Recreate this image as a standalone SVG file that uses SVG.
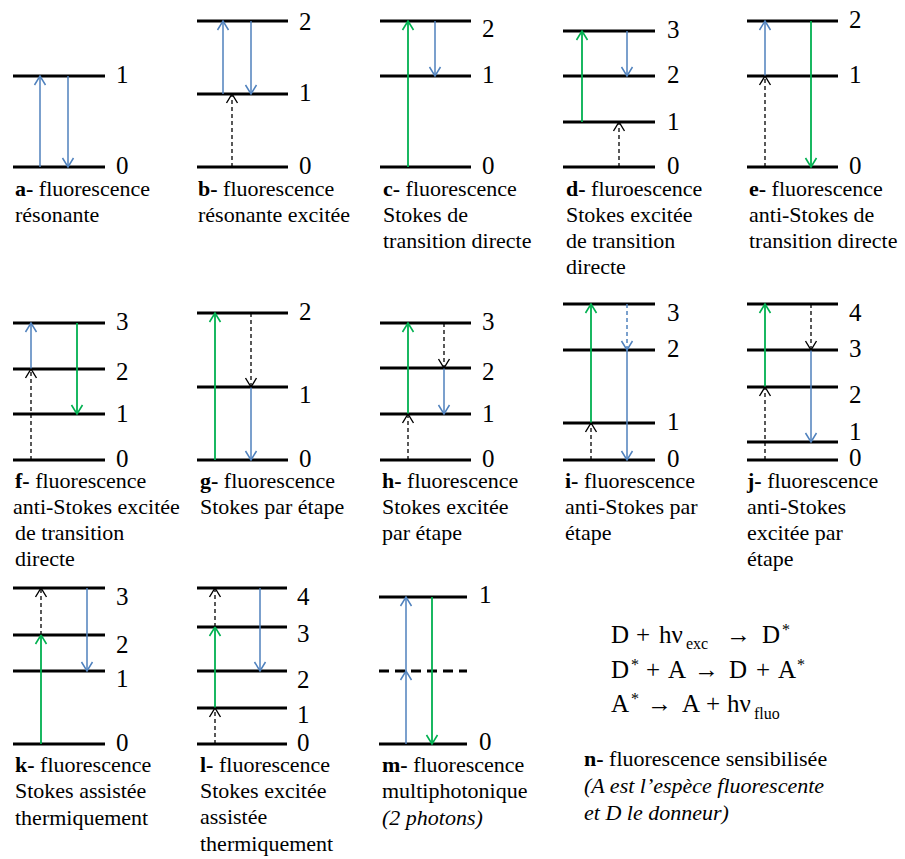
<svg xmlns="http://www.w3.org/2000/svg" width="905" height="859" viewBox="0 0 905 859">
<defs>
<marker id="mb" viewBox="-11 -7 12 14" refX="0" refY="0" markerWidth="12" markerHeight="14" markerUnits="userSpaceOnUse" orient="auto"><path d="M-9,-5.5 L0,0 L-9,5.5" fill="none" stroke="#4f81bd" stroke-width="1.5" stroke-dasharray="none"/></marker>
<marker id="mg" viewBox="-11 -7 12 14" refX="0" refY="0" markerWidth="12" markerHeight="14" markerUnits="userSpaceOnUse" orient="auto"><path d="M-9,-5.5 L0,0 L-9,5.5" fill="none" stroke="#00b050" stroke-width="1.6"/></marker>
<marker id="mk" viewBox="-11 -7 12 14" refX="0" refY="0" markerWidth="12" markerHeight="14" markerUnits="userSpaceOnUse" orient="auto"><path d="M-9,-5.5 L0,0 L-9,5.5" fill="none" stroke="#000" stroke-width="1.4" stroke-dasharray="none"/></marker>
</defs>
<rect width="905" height="859" fill="#fff"/>

<g id="panel-a">
<path stroke="#000" stroke-width="3" fill="none" d="M13,76H105M13,167H105"/>
<text style="font-family:Liberation Serif !important" font-family="Liberation Serif" font-size="25" x="116" y="83">1</text><text style="font-family:Liberation Serif !important" font-family="Liberation Serif" font-size="25" x="116" y="174">0</text>
<text style="font-family:Liberation Serif !important" font-family="Liberation Serif" font-size="22" x="15" y="196"><tspan font-weight="bold">a-</tspan> fluorescence</text>
<text style="font-family:Liberation Serif !important" font-family="Liberation Serif" font-size="22" x="15" y="222">résonante</text>
</g>
<g id="panel-b">
<path stroke="#000" stroke-width="3" fill="none" d="M197,21H288M197,94H288M197,167H288"/>
<text style="font-family:Liberation Serif !important" font-family="Liberation Serif" font-size="25" x="299" y="30">2</text><text style="font-family:Liberation Serif !important" font-family="Liberation Serif" font-size="25" x="299" y="101">1</text><text style="font-family:Liberation Serif !important" font-family="Liberation Serif" font-size="25" x="299" y="174">0</text>
<text style="font-family:Liberation Serif !important" font-family="Liberation Serif" font-size="22" x="198" y="196"><tspan font-weight="bold">b-</tspan> fluorescence</text>
<text style="font-family:Liberation Serif !important" font-family="Liberation Serif" font-size="22" x="198" y="222">résonante excitée</text>
</g>
<g id="panel-c">
<path stroke="#000" stroke-width="3" fill="none" d="M380,21H471M380,76H471M380,167H471"/>
<text style="font-family:Liberation Serif !important" font-family="Liberation Serif" font-size="25" x="482" y="37">2</text><text style="font-family:Liberation Serif !important" font-family="Liberation Serif" font-size="25" x="482" y="83">1</text><text style="font-family:Liberation Serif !important" font-family="Liberation Serif" font-size="25" x="482" y="174">0</text>
<text style="font-family:Liberation Serif !important" font-family="Liberation Serif" font-size="22" x="383" y="196"><tspan font-weight="bold">c-</tspan> fluorescence</text>
<text style="font-family:Liberation Serif !important" font-family="Liberation Serif" font-size="22" x="383" y="222">Stokes de</text>
<text style="font-family:Liberation Serif !important" font-family="Liberation Serif" font-size="22" x="383" y="248">transition directe</text>
</g>
<g id="panel-d">
<path stroke="#000" stroke-width="3" fill="none" d="M563,31H655M563,76H655M563,122H655M563,167H655"/>
<text style="font-family:Liberation Serif !important" font-family="Liberation Serif" font-size="25" x="667" y="38">3</text><text style="font-family:Liberation Serif !important" font-family="Liberation Serif" font-size="25" x="667" y="83">2</text><text style="font-family:Liberation Serif !important" font-family="Liberation Serif" font-size="25" x="667" y="130">1</text><text style="font-family:Liberation Serif !important" font-family="Liberation Serif" font-size="25" x="667" y="174">0</text>
<text style="font-family:Liberation Serif !important" font-family="Liberation Serif" font-size="22" x="566" y="196"><tspan font-weight="bold">d-</tspan> fluroescence</text>
<text style="font-family:Liberation Serif !important" font-family="Liberation Serif" font-size="22" x="566" y="222">Stokes excitée</text>
<text style="font-family:Liberation Serif !important" font-family="Liberation Serif" font-size="22" x="566" y="248">de transition</text>
<text style="font-family:Liberation Serif !important" font-family="Liberation Serif" font-size="22" x="566" y="274">directe</text>
</g>
<g id="panel-e">
<path stroke="#000" stroke-width="3" fill="none" d="M747,21H838M747,76H838M747,167H838"/>
<text style="font-family:Liberation Serif !important" font-family="Liberation Serif" font-size="25" x="849" y="28">2</text><text style="font-family:Liberation Serif !important" font-family="Liberation Serif" font-size="25" x="849" y="83">1</text><text style="font-family:Liberation Serif !important" font-family="Liberation Serif" font-size="25" x="849" y="174">0</text>
<text style="font-family:Liberation Serif !important" font-family="Liberation Serif" font-size="22" x="749" y="196"><tspan font-weight="bold">e-</tspan> fluorescence</text>
<text style="font-family:Liberation Serif !important" font-family="Liberation Serif" font-size="22" x="749" y="222">anti-Stokes de</text>
<text style="font-family:Liberation Serif !important" font-family="Liberation Serif" font-size="22" x="749" y="248">transition directe</text>
</g>

<g id="panel-f">
<path stroke="#000" stroke-width="3" fill="none" d="M13,323H105M13,369H105M13,414H105M13,460H105"/>
<text style="font-family:Liberation Serif !important" font-family="Liberation Serif" font-size="25" x="116" y="330">3</text><text style="font-family:Liberation Serif !important" font-family="Liberation Serif" font-size="25" x="116" y="380">2</text><text style="font-family:Liberation Serif !important" font-family="Liberation Serif" font-size="25" x="116" y="422">1</text><text style="font-family:Liberation Serif !important" font-family="Liberation Serif" font-size="25" x="116" y="467">0</text>
<text style="font-family:Liberation Serif !important" font-family="Liberation Serif" font-size="22" x="15" y="488"><tspan font-weight="bold">f-</tspan> fluorescence</text>
<text style="font-family:Liberation Serif !important" font-family="Liberation Serif" font-size="22" x="13" y="514">anti-Stokes excitée</text>
<text style="font-family:Liberation Serif !important" font-family="Liberation Serif" font-size="22" x="15" y="540">de transition</text>
<text style="font-family:Liberation Serif !important" font-family="Liberation Serif" font-size="22" x="15" y="566">directe</text>
</g>
<g id="panel-g">
<path stroke="#000" stroke-width="3" fill="none" d="M197,313H288M197,387H288M197,460H288"/>
<text style="font-family:Liberation Serif !important" font-family="Liberation Serif" font-size="25" x="299" y="320">2</text><text style="font-family:Liberation Serif !important" font-family="Liberation Serif" font-size="25" x="299" y="403">1</text><text style="font-family:Liberation Serif !important" font-family="Liberation Serif" font-size="25" x="299" y="467">0</text>
<text style="font-family:Liberation Serif !important" font-family="Liberation Serif" font-size="22" x="200" y="488"><tspan font-weight="bold">g-</tspan> fluorescence</text>
<text style="font-family:Liberation Serif !important" font-family="Liberation Serif" font-size="22" x="200" y="514">Stokes par étape</text>
</g>
<g id="panel-h">
<path stroke="#000" stroke-width="3" fill="none" d="M380,323H471M380,368H471M380,414H471M380,460H471"/>
<text style="font-family:Liberation Serif !important" font-family="Liberation Serif" font-size="25" x="482" y="330">3</text><text style="font-family:Liberation Serif !important" font-family="Liberation Serif" font-size="25" x="482" y="380">2</text><text style="font-family:Liberation Serif !important" font-family="Liberation Serif" font-size="25" x="482" y="422">1</text><text style="font-family:Liberation Serif !important" font-family="Liberation Serif" font-size="25" x="482" y="467">0</text>
<text style="font-family:Liberation Serif !important" font-family="Liberation Serif" font-size="22" x="382" y="488"><tspan font-weight="bold">h-</tspan> fluorescence</text>
<text style="font-family:Liberation Serif !important" font-family="Liberation Serif" font-size="22" x="382" y="514">Stokes excitée</text>
<text style="font-family:Liberation Serif !important" font-family="Liberation Serif" font-size="22" x="382" y="540">par étape</text>
</g>
<g id="panel-i">
<path stroke="#000" stroke-width="3" fill="none" d="M563,304H655M563,350H655M563,423H655M563,460H655"/>
<text style="font-family:Liberation Serif !important" font-family="Liberation Serif" font-size="25" x="667" y="321">3</text><text style="font-family:Liberation Serif !important" font-family="Liberation Serif" font-size="25" x="667" y="357">2</text><text style="font-family:Liberation Serif !important" font-family="Liberation Serif" font-size="25" x="667" y="430">1</text><text style="font-family:Liberation Serif !important" font-family="Liberation Serif" font-size="25" x="667" y="467">0</text>
<text style="font-family:Liberation Serif !important" font-family="Liberation Serif" font-size="22" x="565" y="488"><tspan font-weight="bold">i-</tspan> fluorescence</text>
<text style="font-family:Liberation Serif !important" font-family="Liberation Serif" font-size="22" x="565" y="514">anti-Stokes par</text>
<text style="font-family:Liberation Serif !important" font-family="Liberation Serif" font-size="22" x="565" y="540">étape</text>
</g>
<g id="panel-j">
<path stroke="#000" stroke-width="3" fill="none" d="M747,304H838M747,350H838M747,387H838M747,442H838M747,460H838"/>
<text style="font-family:Liberation Serif !important" font-family="Liberation Serif" font-size="25" x="849" y="321">4</text><text style="font-family:Liberation Serif !important" font-family="Liberation Serif" font-size="25" x="849" y="357">3</text><text style="font-family:Liberation Serif !important" font-family="Liberation Serif" font-size="25" x="849" y="403">2</text><text style="font-family:Liberation Serif !important" font-family="Liberation Serif" font-size="25" x="849" y="440">1</text><text style="font-family:Liberation Serif !important" font-family="Liberation Serif" font-size="25" x="849" y="466">0</text>
<text style="font-family:Liberation Serif !important" font-family="Liberation Serif" font-size="22" x="747" y="488"><tspan font-weight="bold">j-</tspan> fluorescence</text>
<text style="font-family:Liberation Serif !important" font-family="Liberation Serif" font-size="22" x="747" y="514">anti-Stokes</text>
<text style="font-family:Liberation Serif !important" font-family="Liberation Serif" font-size="22" x="747" y="540">excitée par</text>
<text style="font-family:Liberation Serif !important" font-family="Liberation Serif" font-size="22" x="747" y="566">étape</text>
</g>

<g id="panel-k">
<path stroke="#000" stroke-width="3" fill="none" d="M13,588H105M13,635H105M13,671H105M13,744H105"/>
<text style="font-family:Liberation Serif !important" font-family="Liberation Serif" font-size="25" x="116" y="605">3</text><text style="font-family:Liberation Serif !important" font-family="Liberation Serif" font-size="25" x="116" y="653">2</text><text style="font-family:Liberation Serif !important" font-family="Liberation Serif" font-size="25" x="116" y="687">1</text><text style="font-family:Liberation Serif !important" font-family="Liberation Serif" font-size="25" x="116" y="751">0</text>
<text style="font-family:Liberation Serif !important" font-family="Liberation Serif" font-size="22" x="15" y="772"><tspan font-weight="bold">k-</tspan> fluorescence</text>
<text style="font-family:Liberation Serif !important" font-family="Liberation Serif" font-size="22" x="15" y="798">Stokes assistée</text>
<text style="font-family:Liberation Serif !important" font-family="Liberation Serif" font-size="22" x="15" y="825">thermiquement</text>
</g>
<g id="panel-l">
<path stroke="#000" stroke-width="3" fill="none" d="M197,588H287M197,627H287M197,671H287M197,708H287M197,744H287"/>
<text style="font-family:Liberation Serif !important" font-family="Liberation Serif" font-size="25" x="297" y="605">4</text><text style="font-family:Liberation Serif !important" font-family="Liberation Serif" font-size="25" x="297" y="642">3</text><text style="font-family:Liberation Serif !important" font-family="Liberation Serif" font-size="25" x="297" y="688">2</text><text style="font-family:Liberation Serif !important" font-family="Liberation Serif" font-size="25" x="297" y="723">1</text><text style="font-family:Liberation Serif !important" font-family="Liberation Serif" font-size="25" x="297" y="751">0</text>
<text style="font-family:Liberation Serif !important" font-family="Liberation Serif" font-size="22" x="200" y="772"><tspan font-weight="bold">l-</tspan> fluorescence</text>
<text style="font-family:Liberation Serif !important" font-family="Liberation Serif" font-size="22" x="200" y="798">Stokes excitée</text>
<text style="font-family:Liberation Serif !important" font-family="Liberation Serif" font-size="22" x="200" y="824">assistée</text>
<text style="font-family:Liberation Serif !important" font-family="Liberation Serif" font-size="22" x="200" y="851">thermiquement</text>
</g>
<g id="panel-m">
<path stroke="#000" stroke-width="3" fill="none" d="M379,597H467M379,744H467"/>
<path stroke="#000" stroke-width="3" fill="none" stroke-dasharray="10 6" d="M379,671H467"/>
<text style="font-family:Liberation Serif !important" font-family="Liberation Serif" font-size="25" x="479" y="603">1</text><text style="font-family:Liberation Serif !important" font-family="Liberation Serif" font-size="25" x="479" y="750">0</text>
<text style="font-family:Liberation Serif !important" font-family="Liberation Serif" font-size="22" x="382" y="772"><tspan font-weight="bold">m-</tspan> fluorescence</text>
<text style="font-family:Liberation Serif !important" font-family="Liberation Serif" font-size="22" x="382" y="798">multiphotonique</text>
<text style="font-family:Liberation Serif !important" font-family="Liberation Serif" font-size="22" x="382" y="825" font-style="italic">(2 photons)</text>
</g>
<g id="panel-n">
<text style="font-family:Liberation Serif !important" font-family="Liberation Serif" font-size="25" y="643"><tspan x="611">D</tspan><tspan x="636">+</tspan><tspan x="659">hν</tspan><tspan font-size="16" x="686" dy="6">exc</tspan><tspan x="726" dy="-6">→</tspan><tspan x="762">D</tspan><tspan font-size="16" x="782" dy="-8">*</tspan></text>
<text style="font-family:Liberation Serif !important" font-family="Liberation Serif" font-size="25" y="678"><tspan x="611">D</tspan><tspan font-size="16" x="631" dy="-8">*</tspan><tspan x="646" dy="8">+</tspan><tspan x="668">A</tspan><tspan x="694">→</tspan><tspan x="729">D</tspan><tspan x="756">+</tspan><tspan x="778">A</tspan><tspan font-size="16" x="797" dy="-8">*</tspan></text>
<text style="font-family:Liberation Serif !important" font-family="Liberation Serif" font-size="25" y="712"><tspan x="611">A</tspan><tspan font-size="16" x="631" dy="-8">*</tspan><tspan x="647" dy="8">→</tspan><tspan x="682">A</tspan><tspan x="706">+</tspan><tspan x="727">hν</tspan><tspan font-size="16" x="754" dy="7">fluo</tspan></text>
<text style="font-family:Liberation Serif !important" font-family="Liberation Serif" font-size="22" x="584" y="766"><tspan font-weight="bold">n-</tspan> fluorescence sensibilisée</text>
<text style="font-family:Liberation Serif !important" font-family="Liberation Serif" font-size="22" x="584" y="793" font-style="italic">(A est l’espèce fluorescente</text>
<text style="font-family:Liberation Serif !important" font-family="Liberation Serif" font-size="22" x="584" y="820" font-style="italic">et D le donneur)</text>
</g>

<g id="connectors" fill="none">
<g stroke="#4f81bd" stroke-width="1.5" marker-end="url(#mb)">
<path d="M40,167V76"/><path d="M68,76V167"/>
<path d="M223,94V21"/><path d="M251,21V94"/>
<path d="M435,21V76"/><path d="M627,31V76"/><path d="M765,76V21"/>
<path d="M31,369V323"/><path d="M251,387V460"/><path d="M444,368V414"/><path d="M627,350V460"/><path d="M811,350V442"/>
<path d="M87,588V671"/><path d="M260,588V671"/><path d="M406,744V671"/><path d="M406,671V597"/>
<path stroke-dasharray="4 3" d="M627,304V350"/>
</g>
<g stroke="#00b050" stroke-width="1.8" marker-end="url(#mg)">
<path d="M408,167V21"/><path d="M582,122V31"/><path d="M811,21V167"/>
<path d="M77,323V414"/><path d="M215,460V313"/><path d="M408,414V323"/><path d="M591,423V304"/><path d="M765,387V304"/>
<path d="M41,744V635"/><path d="M215,708V627"/><path d="M432,597V744"/>
</g>
<g stroke="#000" stroke-width="1.3" stroke-dasharray="4 3" marker-end="url(#mk)">
<path d="M232,167V94"/><path d="M619,167V122"/><path d="M765,167V76"/>
<path d="M31,460V369"/><path d="M251,313V387"/><path d="M408,460V414"/><path d="M444,323V368"/>
<path d="M591,460V423"/><path d="M765,460V387"/><path d="M811,304V350"/>
<path d="M41,635V588"/><path d="M215,744V708"/><path d="M215,627V588"/>
</g>
</g>
</svg>
